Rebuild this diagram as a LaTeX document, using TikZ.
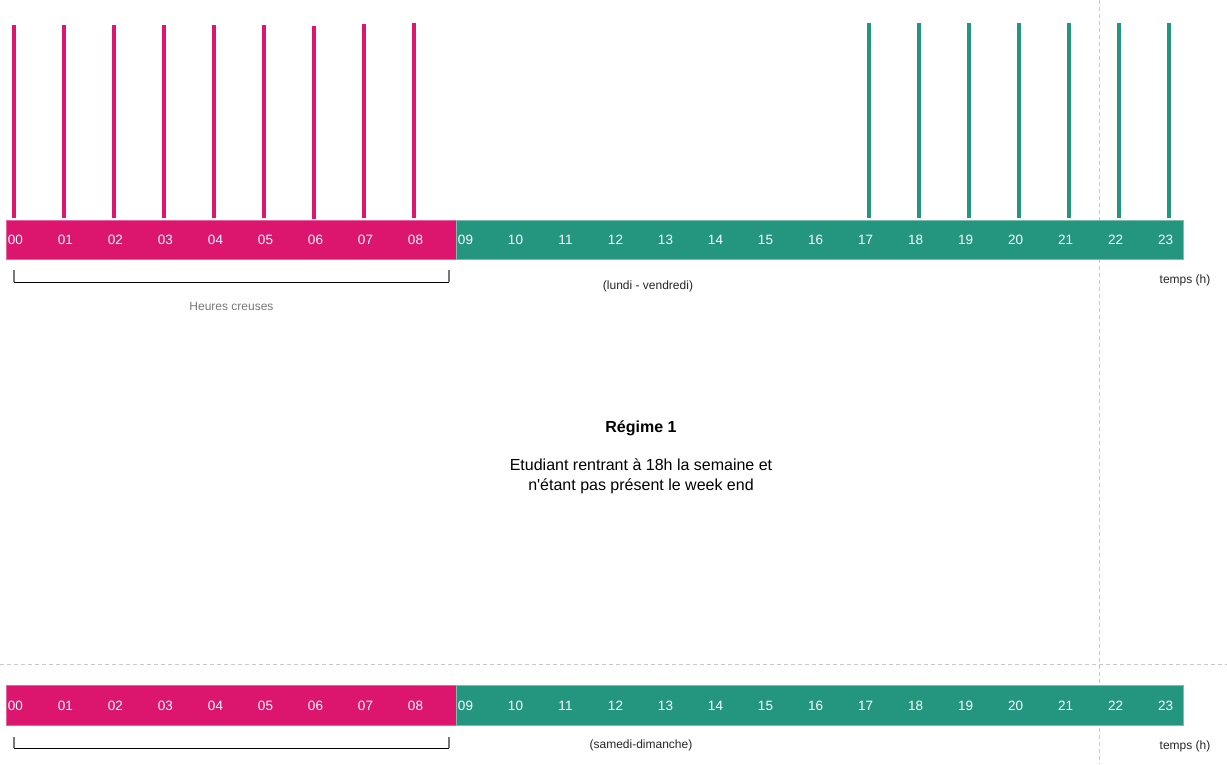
\documentclass[tikz,border=0pt]{standalone}
\usepackage{fontspec}
\setmainfont{Liberation Sans}[Ligatures=TeXOff]
\definecolor{creuse}{RGB}{220,21,110}
\definecolor{creuseedge}{RGB}{232,100,160}
\definecolor{pleine}{RGB}{36,150,128}
\definecolor{pleineedge}{RGB}{120,190,170}
\definecolor{guide}{RGB}{200,200,200}
\definecolor{note}{RGB}{120,120,120}
\begin{document}
\begin{tikzpicture}[x=1pt,y=-1pt,
  hourlbl/.style={text=white,font=\fontsize{13.5}{15}\selectfont,inner sep=0pt,anchor=center},
  spikecreuse/.style={draw=creuse,line width=4pt},
  spikepleine/.style={draw=pleine,line width=4pt},
  guideline/.style={draw=guide,dashed,line width=0.8pt,dash pattern=on 4pt off 3pt},
  caption/.style={font=\fontsize{12}{14}\selectfont,inner sep=0pt,text=black!85},
  bracketend/.style={draw=note,line width=1.5pt},
  bracketbar/.style={draw=black,line width=1pt}]
\useasboundingbox (0,0) rectangle (1227,764);
\fill[white] (0,0) rectangle (1227,764);

% dashed guides
\draw[guideline] (1099,0) -- (1099,764);
\draw[guideline] (0,664) -- (1227,664);

% weekday timeline
\draw[creuseedge,fill=creuse,line width=1pt] (6,220) rectangle (456,259);
\draw[pleineedge,fill=pleine,line width=1pt] (456,220) rectangle (1183,259);
\foreach \h [count=\i from 0] in {00,01,02,03,04,05,06,07,08,09,10,11,12,13,14,15,16,17,18,19,20,21,22,23}
  \node[hourlbl] (wk\h) at ({15.5+50*\i},240) {\h};

% consumption spikes
\foreach \i/\t/\b in {0/25/218,1/25/218,2/25/218,3/25/218,4/25/218,5/25/218,6/26/219,7/24/218,8/23/218}
  \draw[spikecreuse] ({14+50*\i},\t) -- ({14+50*\i},\b);
\foreach \i in {17,...,23}
  \draw[spikepleine] ({19+50*\i},23) -- ({19+50*\i},218);

% off-peak bracket
\coordinate (bra) at (14,282);
\coordinate (brb) at (449,282);
\draw[bracketbar] (bra) -- (brb);
\draw[bracketend] (bra) -- ++(0,-12);
\draw[bracketend] (brb) -- ++(0,-12);
\node[caption,text=note] (hc) at (231.5,306) {Heures creuses};
\node[caption] (lv) at (648,286) {(lundi - vendredi)};
\node[caption] (tw) at (1185,280) {temps (h)};

% description
\node[font=\bfseries\fontsize{16}{18}\selectfont,inner sep=0pt] (reg) at (641,428) {Régime 1};
\node[font=\fontsize{16}{20}\selectfont,align=center,inner sep=0pt] (desc) at (641,476)
  {Etudiant rentrant à 18h la semaine et\\n'étant pas présent le week end};

% weekend timeline
\draw[creuseedge,fill=creuse,line width=1pt] (6,685) rectangle (456,725);
\draw[pleineedge,fill=pleine,line width=1pt] (456,685) rectangle (1183,725);
\foreach \h [count=\i from 0] in {00,01,02,03,04,05,06,07,08,09,10,11,12,13,14,15,16,17,18,19,20,21,22,23}
  \node[hourlbl] (we\h) at ({15.5+50*\i},706) {\h};

\coordinate (brc) at (14,748);
\coordinate (brd) at (449,748);
\draw[bracketbar] (brc) -- (brd);
\draw[bracketend] (brc) -- ++(0,-11);
\draw[bracketend] (brd) -- ++(0,-11);
\node[caption] (sd) at (641,745) {(samedi-dimanche)};
\node[caption] (te) at (1185,746) {temps (h)};
\end{tikzpicture}
\end{document}
